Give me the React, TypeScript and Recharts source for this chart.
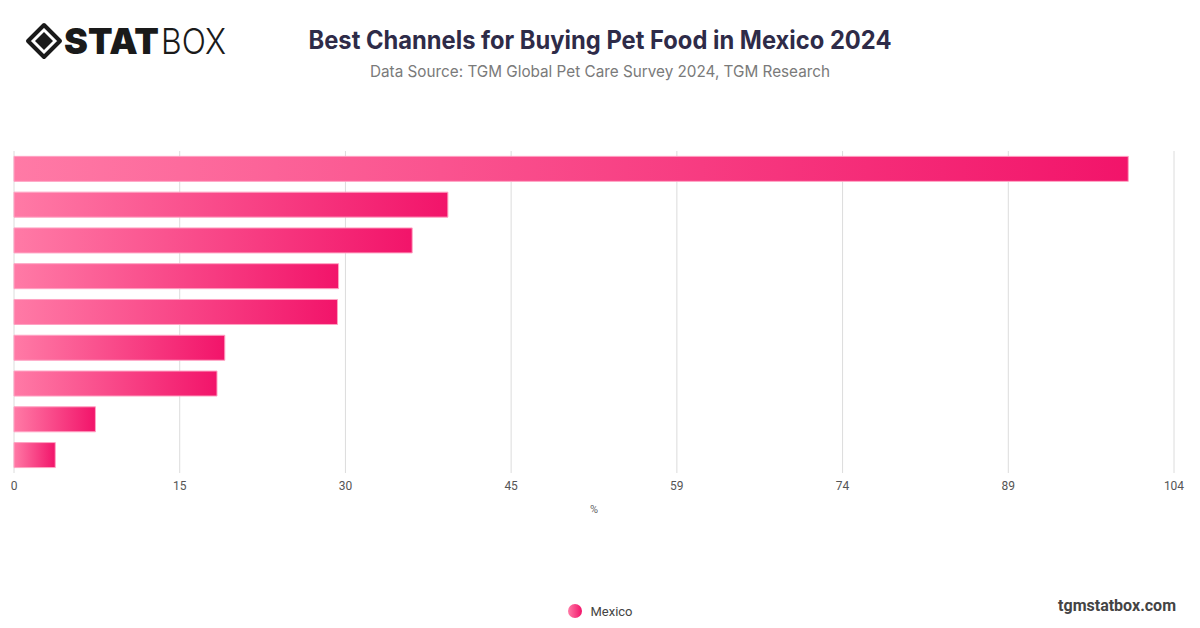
import React from "react";
import { BarChart, Bar, XAxis, YAxis, CartesianGrid, Legend } from "recharts";

const categories = [
  "Supermarkets / hypermarkets",
  "Pet stores",
  "Veterinary clinics",
  "Online marketplaces",
  "Local shops",
  "Brand websites",
  "Wholesale clubs",
  "Convenience stores",
  "Other",
];
const mexicoValues = [99.9, 38.9, 35.7, 29.1, 29.0, 18.9, 18.2, 7.3, 3.7];
const tickValues = [0, 14.857, 29.714, 44.571, 59.429, 74.286, 89.143, 104];
const tickLabels = ["0", "15", "30", "45", "59", "74", "89", "104"];
const seriesName = "Mexico";

const data = categories.map((c, i) => ({ name: c, value: mexicoValues[i] }));

const LegendContent = () => (
  <div style={{ display: "flex", justifyContent: "center", alignItems: "center", fontFamily: "Roboto, 'Liberation Sans', sans-serif" }}>
    <svg width={16} height={16} style={{ marginRight: 7 }}>
      <defs>
        <linearGradient id="legGrad" x1="0" y1="0" x2="1" y2="0">
          <stop offset="0%" stopColor="#ff7aa6" />
          <stop offset="100%" stopColor="#f2146a" />
        </linearGradient>
      </defs>
      <circle cx={8} cy={8} r={7} fill="url(#legGrad)" />
    </svg>
    <span style={{ fontSize: 13, color: "#444" }}>{seriesName}</span>
  </div>
);

export default function App() {
  return (
    <div style={{ width: 1200, height: 628, position: "relative", background: "#fff", overflow: "hidden", fontFamily: "Roboto, 'Liberation Sans', sans-serif" }}>
      <style>{`body{margin:0}`}</style>
      {/* Logo */}
      <svg width={240} height={80} style={{ position: "absolute", left: 0, top: 0 }}>
        <polygon points="44,25 60,41 44,57 28,41" fill="none" stroke="#1a1a1a" strokeWidth={4} strokeLinejoin="round" />
        <polygon points="44,32 53,41 44,50 35,41" fill="#1a1a1a" />
        <text x={64} y={54} fontFamily="Inter, 'DejaVu Sans', sans-serif" fontWeight={900} fontSize={36} fill="#1a1a1a" textLength={95} lengthAdjust="spacingAndGlyphs">STAT</text>
        <text x={161} y={54} fontFamily="Inter, 'DejaVu Sans', sans-serif" fontWeight={300} fontSize={36} fill="#1a1a1a" textLength={65} lengthAdjust="spacingAndGlyphs">BOX</text>
      </svg>
      {/* Title */}
      <svg width={1200} height={90} style={{ position: "absolute", left: 0, top: 0 }}>
        <text x={600} y={49} textAnchor="middle" fontFamily="Inter, Roboto, sans-serif" fontWeight={700} fontSize={25} fill="#2e2b48" textLength={583} lengthAdjust="spacingAndGlyphs">
          Best Channels for Buying Pet Food in Mexico 2024
        </text>
        <text x={600} y={77} textAnchor="middle" fontFamily="Inter, Roboto, sans-serif" fontWeight={400} fontSize={16} fill="#7a7a7a" textLength={460} lengthAdjust="spacingAndGlyphs">
          Data Source: TGM Global Pet Care Survey 2024, TGM Research
        </text>
      </svg>
      <div style={{ position: "absolute", left: 0, top: 0 }}>
        <BarChart
          width={1200}
          height={628}
          data={data}
          layout="vertical"
          margin={{ top: 151, right: 26, left: 14, bottom: 99 }}
          barCategoryGap="15%"
        >
          <defs>
            <linearGradient id="barGrad" x1="0" y1="0" x2="1" y2="0">
              <stop offset="0%" stopColor="#ff7aa6" />
              <stop offset="100%" stopColor="#f2146a" />
            </linearGradient>
          </defs>
          <CartesianGrid horizontal={false} vertical={true} stroke="#dcdcdc" />
          <XAxis
            type="number"
            domain={[0, 104]}
            ticks={tickValues}
            tickFormatter={(v, i) => tickLabels[i]}
            axisLine={false}
            tickLine={false}
            height={40}
            tick={{ fill: "#555", fontSize: 12 }}
            interval={0}
            label={{ value: "%", position: "insideBottom", offset: 0, fill: "#666", fontSize: 11 }}
          />
          <YAxis type="category" dataKey="name" width={0} tick={false} tickLine={false} axisLine={{ stroke: "#333", strokeWidth: 1.5 }} />
          <Legend content={<LegendContent />} wrapperStyle={{ position: "absolute", top: 603, left: 0, width: 1200 }} />
          <Bar dataKey="value" name={seriesName} fill="url(#barGrad)" stroke="#ffa3c3" strokeWidth={1} isAnimationActive={false} />
        </BarChart>
      </div>
      <div style={{ position: "absolute", right: 24, top: 596, fontSize: 16, fontWeight: 700, color: "#444" }}>tgmstatbox.com</div>
    </div>
  );
}
